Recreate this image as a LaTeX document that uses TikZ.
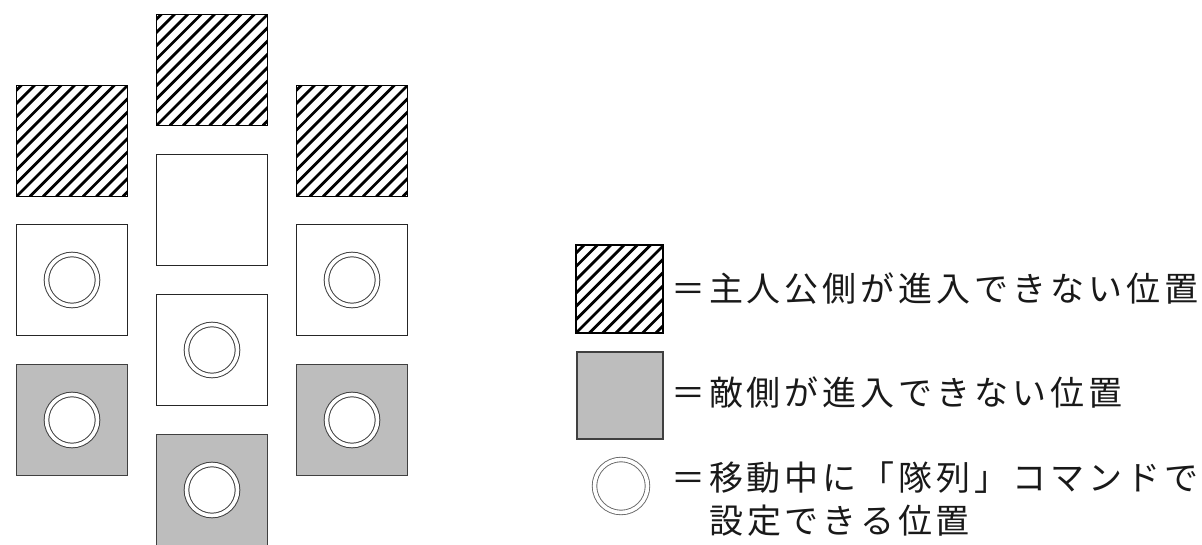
\documentclass[tikz,border=0pt]{standalone}
\usepackage{fontspec}
\newfontfamily\jp[LetterSpace=11.5]{Noto Sans CJK JP}
\begin{document}
\begin{tikzpicture}[x=1pt,y=-1pt,
  cell/.style={rectangle, minimum width=111pt, minimum height=111pt, inner sep=0pt, outer sep=0pt},
  hatchcell/.style={cell, draw=black, line width=1.6pt, path picture={
     \foreach \k in {-10,...,10}{
       \draw[line width=2.8pt,black] ([xshift=\k*13.3pt]path picture bounding box.south west) -- ++(150pt,150pt);}}},
  graycell/.style={cell, fill=black!26, draw=black!75, line width=1.4pt},
  whitecell/.style={cell, draw=black!85, line width=1.1pt},
  ring/.style={circle, draw=black!75, line width=1pt, double=white, double distance=3.6pt, fill=white, minimum size=51pt, inner sep=0pt},
  legtext/.style={anchor=base west, inner sep=0pt, text=black!90, font=\jp\fontsize{34pt}{40pt}\selectfont}
]
\useasboundingbox (0,0) rectangle (1202,544);
% middle column
\node[hatchcell] (m1) at (212,70) {};
\node[whitecell] (m2) at (212,210) {};
\node[whitecell] (m3) at (212,350) {};
\node[graycell]  (m4) at (212,490) {};
% left column
\node[hatchcell] (l1) at (72,141) {};
\node[whitecell] (l2) at (72,280) {};
\node[graycell]  (l3) at (72,420) {};
% right column
\node[hatchcell] (r1) at (352,141) {};
\node[whitecell] (r2) at (352,280) {};
\node[graycell]  (r3) at (352,420) {};
% rings
\node[ring] (cl2) at (l2) {};
\node[ring] (cr2) at (r2) {};
\node[ring] (cm3) at (m3) {};
\node[ring] (cl3) at (l3) {};
\node[ring] (cr3) at (r3) {};
\node[ring] (cm4) at (m4) {};
% legend
\node[hatchcell, minimum width=87pt, minimum height=88pt] (kh) at (619.5,289) {};
\node[graycell, minimum width=86pt, minimum height=87pt] (kg) at (620,395.5) {};
\node[ring, minimum size=53pt, draw=black!60, line width=0.9pt] (kc) at (621,486) {};
\node[legtext] (t1) at (671,301) {＝主人公側が進入できない位置};
\node[legtext] (t2) at (671,405) {＝敵側が進入できない位置};
\node[legtext] (t3) at (671,490) {＝移動中に「隊列」コマンドで};
\node[legtext] (t4) at (709,533) {設定できる位置};
\end{tikzpicture}
\end{document}
